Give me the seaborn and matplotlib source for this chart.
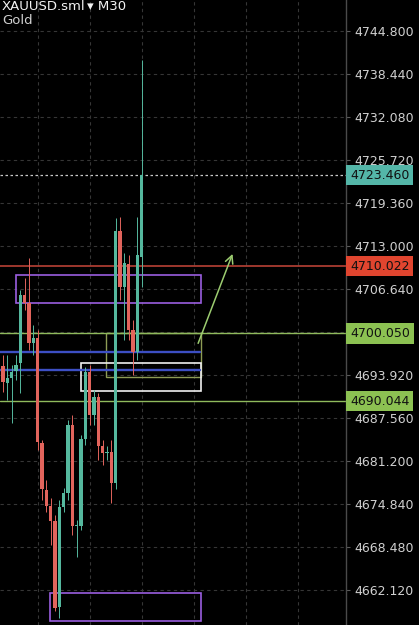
import numpy as np
import pandas as pd
import seaborn as sns
from matplotlib import pyplot as plt
from matplotlib.patches import Rectangle

# seaborn theme, dark terminal look
sns.set_theme(style="dark", rc={
    "axes.facecolor": "#000000",
    "figure.facecolor": "#000000",
    "savefig.facecolor": "#000000",
})
plt.rcParams['font.family'] = ['DejaVu Sans']

# M30 candles (open, high, low, close)
opens = [4695.25, 4692.73, 4693.47, 4694.51, 4695.69, 4705.75, 4704.57, 4698.65,
         4699.39, 4683.86, 4676.90, 4674.54, 4672.32, 4659.60, 4674.39, 4676.46,
         4686.52, 4671.58, 4671.58, 4684.45, 4694.36, 4688.00, 4690.66, 4683.41,
         4682.38, 4682.53, 4677.94, 4715.22, 4706.93, 4710.34, 4700.57, 4697.32,
         4711.37]
highs = [4696.87, 4696.87, 4695.40, 4696.87, 4706.49, 4708.27, 4711.22, 4701.31,
         4700.57, 4684.30, 4678.38, 4675.72, 4673.21, 4675.42, 4677.20, 4687.26,
         4688.00, 4672.47, 4685.04, 4695.10, 4695.40, 4691.70, 4691.25, 4684.30,
         4683.41, 4684.30, 4717.14, 4717.29, 4711.96, 4711.67, 4702.05, 4717.29,
         4740.51]
lows = [4691.40, 4690.22, 4686.82, 4693.18, 4691.25, 4703.53, 4697.61, 4696.87,
        4682.82, 4675.42, 4673.65, 4668.77, 4659.00, 4657.97, 4673.65, 4675.42,
        4670.25, 4666.99, 4670.99, 4683.56, 4686.52, 4686.52, 4681.34, 4680.60,
        4681.34, 4674.98, 4677.05, 4705.01, 4699.09, 4699.09, 4693.92, 4696.14,
        4706.93]
closes = [4692.88, 4693.47, 4694.36, 4695.40, 4705.75, 4704.57, 4698.65, 4699.39,
          4684.00, 4677.05, 4674.54, 4672.32, 4659.45, 4674.39, 4676.46, 4686.52,
          4671.58, 4671.73, 4684.45, 4694.36, 4688.00, 4690.66, 4683.41, 4682.38,
          4682.53, 4677.94, 4715.22, 4706.93, 4710.48, 4700.57, 4697.32, 4711.67,
          4723.46]

# price scale on the right
tick_values = [4744.80, 4738.44, 4732.08, 4725.72, 4719.36, 4713.00, 4706.64,
               4700.28, 4693.92, 4687.56, 4681.20, 4674.84, 4668.48, 4662.12]
hidden_ticks = [4700.28]

# horizontal levels
last_price = 4723.46
red_level = 4710.022
green_levels = [4700.050, 4690.044]
blue_levels = [4697.32, 4694.65]

# zones: (x0, x1, y_low, y_high) in bar index / price
purple_zones = [(3.0, 45.7, 4704.56, 4708.71), (10.85, 45.7, 4657.52, 4661.66)]
white_zone = (18.0, 45.7, 4691.55, 4695.69)
olive_zone = (23.8, 45.7, 4693.60, 4700.05)
arrow_from = (44.8, 4698.2)
arrow_to = (53.2, 4712.2)
blue_end = 45.5
grid_bars = [8, 20, 32, 44, 56, 68]

UP = '#55b89e'
DOWN = '#e2645c'

df = pd.DataFrame({'o': opens, 'h': highs, 'l': lows, 'c': closes})
df['i'] = np.arange(len(df))
df['color'] = np.where(df['c'] >= df['o'], UP, DOWN)
df['bottom'] = df[['o', 'c']].min(axis=1)
df['height'] = (df['c'] - df['o']).abs().clip(lower=0.15)

fig = plt.figure(figsize=(4.19, 6.25), dpi=100)
ax = fig.add_axes([0, 0, 346 / 419, 1])

ax.set_xlim(-0.69, 79.15)
ax.set_ylim(4656.9, 4749.39)

# grid
ax.set_xticks(grid_bars)
ax.set_xticklabels([])
ax.set_yticks(tick_values)
ax.set_yticklabels(['' if v in hidden_ticks else f'{v:.3f}' for v in tick_values])
ax.grid(True, color='#363636', linestyle=(0, (3, 3)), linewidth=0.8)
ax.yaxis.tick_right()
ax.tick_params(axis='y', colors='#5a5a5a', labelcolor='#d0d0d0', labelsize=9,
               length=3, width=0.8, pad=3, right=True)
ax.tick_params(axis='x', length=0)
for s in ['top', 'left', 'bottom']:
    ax.spines[s].set_visible(False)
ax.spines['right'].set_color('#4a4a4a')
ax.spines['right'].set_linewidth(1)

# levels
ax.axhline(last_price, color='#c8c8c8', linestyle=(0, (2, 2)), linewidth=0.9)
ax.axhline(red_level, color='#c8473a', linewidth=1.1)
for g in green_levels:
    ax.axhline(g, color='#8fba5c', linewidth=1.0)
for b in blue_levels:
    ax.plot([-0.69, blue_end], [b, b], color='#3d4fc4', linewidth=1.7)

# zones
for x0, x1, y0, y1 in purple_zones:
    ax.add_patch(Rectangle((x0, y0), x1 - x0, y1 - y0, fill=False,
                           edgecolor='#9a5ee0', linewidth=1.2))
x0, x1, y0, y1 = olive_zone
ax.add_patch(Rectangle((x0, y0), x1 - x0, y1 - y0, fill=False,
                       edgecolor='#8e9c55', linewidth=1.0))
x0, x1, y0, y1 = white_zone
ax.add_patch(Rectangle((x0, y0), x1 - x0, y1 - y0, fill=False,
                       edgecolor='#f0f0f0', linewidth=1.2))
ax.annotate('', xy=arrow_to, xytext=arrow_from,
            arrowprops=dict(arrowstyle='->', color='#9ccc70', lw=1.1,
                            mutation_scale=14))

# candles
ax.vlines(df['i'], df['l'], df['h'], colors=df['color'], linewidth=0.7, zorder=3)
ax.bar(df['i'], df['height'], bottom=df['bottom'], width=0.8,
       color=df['color'], linewidth=0, zorder=4)

# price tags
tags = [(last_price, '#54b6a8'), (red_level, '#e0452f'),
        (green_levels[0], '#8cc152'), (green_levels[1], '#8cc152')]
for val, col in tags:
    ax.text(1.012, val, f'{val:.3f}', transform=ax.get_yaxis_transform(),
            ha='left', va='center', fontsize=9, color='#111111', clip_on=False,
            bbox=dict(boxstyle='square,pad=0.3', facecolor=col, edgecolor='none'),
            zorder=10)

fig.text(2 / 419, 1 - 7 / 625, 'XAUUSD.sml', color='#f2f2f2', fontsize=9.5,
         ha='left', va='center')
fig.text(87 / 419, 1 - 7 / 625, '\u25be M30', color='#f2f2f2', fontsize=9.5,
         ha='left', va='center')
fig.text(2 / 419, 1 - 21 / 625, 'Gold', color='#d0d0d0', fontsize=9.5,
         ha='left', va='center')

fig.savefig('out.png', dpi=100)
